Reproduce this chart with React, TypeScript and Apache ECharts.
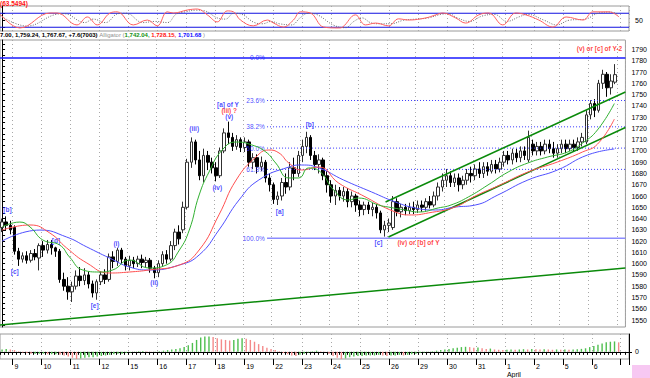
import React, { useEffect, useRef } from 'react';
import * as echarts from 'echarts';

// ---------- DATA ----------
const dayLabels = ['9', '10', '11', '12', '15', '16', '17', '18', '19', '22', '23', '24', '25', '26', '29', '30', '31', '1', '2', '5', '6'];
const monthLabelDay = '1';
const monthLabel = 'April';
const firstDaySlot = 3;
const barsPerDay = 7;
const slotCount = 152;

// [open, close, low, high]
const ohlc: number[][] = [
  // Mar 8 (partial)
  [1632, 1637, 1628, 1640], [1637, 1634, 1629, 1642], [1634, 1630, 1626, 1638],
  // 9
  [1632, 1611, 1608, 1634], [1611, 1604, 1598, 1614], [1604, 1607, 1601, 1610], [1607, 1603, 1600, 1611], [1603, 1609, 1601, 1612], [1609, 1606, 1603, 1613], [1605, 1616, 1594, 1618],
  // 10
  [1616, 1612, 1606, 1620], [1612, 1617, 1609, 1621], [1617, 1614, 1608, 1621], [1614, 1611, 1606, 1615], [1611, 1586, 1583, 1613], [1586, 1580, 1576, 1592], [1580, 1575, 1568, 1588],
  // 11
  [1575, 1580, 1566, 1584], [1580, 1589, 1577, 1594], [1589, 1585, 1580, 1597], [1585, 1590, 1581, 1596], [1590, 1582, 1578, 1593], [1582, 1574, 1570, 1585], [1574, 1584, 1568, 1586],
  // 12
  [1584, 1590, 1581, 1593], [1590, 1586, 1582, 1595], [1586, 1606, 1584, 1609], [1606, 1602, 1596, 1611], [1602, 1612, 1598, 1614], [1612, 1604, 1600, 1614], [1604, 1598, 1594, 1606],
  // 15
  [1598, 1603, 1594, 1607], [1603, 1600, 1596, 1606], [1600, 1604, 1597, 1607], [1604, 1601, 1596, 1608], [1601, 1603, 1597, 1606], [1603, 1596, 1592, 1605], [1596, 1592, 1587, 1598],
  // 16
  [1592, 1600, 1588, 1603], [1600, 1608, 1597, 1611], [1608, 1604, 1600, 1612], [1604, 1616, 1602, 1620], [1616, 1628, 1612, 1631], [1628, 1622, 1617, 1634], [1630, 1650, 1627, 1655],
  // 17
  [1650, 1690, 1648, 1693], [1690, 1708, 1685, 1712], [1708, 1692, 1688, 1710], [1692, 1678, 1674, 1700], [1678, 1696, 1672, 1702], [1696, 1690, 1683, 1700], [1690, 1685, 1680, 1694],
  // 18
  [1685, 1678, 1673, 1690], [1678, 1700, 1676, 1703], [1700, 1716, 1698, 1720], [1716, 1712, 1706, 1726], [1712, 1704, 1700, 1716], [1704, 1710, 1701, 1714], [1710, 1703, 1699, 1712],
  // 19
  [1703, 1708, 1699, 1712], [1708, 1690, 1686, 1710], [1690, 1694, 1684, 1698], [1694, 1686, 1680, 1697], [1686, 1690, 1682, 1695], [1690, 1676, 1672, 1692], [1676, 1670, 1664, 1680],
  // 22
  [1670, 1657, 1653, 1672], [1657, 1660, 1652, 1664], [1660, 1672, 1656, 1676], [1672, 1668, 1662, 1680], [1668, 1685, 1665, 1690], [1685, 1680, 1674, 1694], [1680, 1696, 1677, 1700],
  // 23
  [1696, 1704, 1690, 1710], [1704, 1712, 1698, 1717], [1712, 1696, 1692, 1714], [1696, 1688, 1683, 1700], [1688, 1692, 1680, 1697], [1692, 1678, 1674, 1694], [1678, 1670, 1663, 1682],
  // 24
  [1670, 1660, 1654, 1674], [1660, 1665, 1652, 1670], [1665, 1660, 1656, 1668], [1660, 1664, 1655, 1668], [1664, 1655, 1650, 1667], [1655, 1660, 1650, 1664], [1660, 1652, 1646, 1662],
  // 25
  [1652, 1648, 1642, 1656], [1648, 1652, 1643, 1655], [1652, 1648, 1644, 1655], [1648, 1650, 1642, 1654], [1650, 1645, 1640, 1653], [1645, 1630, 1627, 1647], [1630, 1634, 1624, 1638],
  // 26
  [1634, 1636, 1628, 1640], [1632, 1655, 1630, 1660], [1655, 1646, 1642, 1658], [1646, 1650, 1641, 1653], [1650, 1647, 1643, 1653], [1647, 1650, 1644, 1654], [1650, 1648, 1644, 1655],
  // 29
  [1648, 1652, 1645, 1656], [1652, 1650, 1646, 1656], [1650, 1655, 1647, 1658], [1655, 1652, 1649, 1660], [1652, 1660, 1650, 1664], [1660, 1668, 1656, 1672], [1668, 1674, 1664, 1680],
  // 30
  [1674, 1678, 1668, 1684], [1678, 1672, 1668, 1682], [1672, 1676, 1668, 1680], [1676, 1670, 1664, 1680], [1670, 1674, 1666, 1678], [1674, 1680, 1670, 1684], [1680, 1678, 1672, 1686],
  // 31
  [1678, 1684, 1674, 1688], [1684, 1680, 1676, 1690], [1680, 1686, 1676, 1690], [1686, 1682, 1678, 1690], [1682, 1688, 1680, 1692], [1688, 1684, 1680, 1692], [1684, 1690, 1681, 1694],
  // Apr 1
  [1690, 1696, 1686, 1700], [1696, 1692, 1688, 1700], [1692, 1698, 1688, 1702], [1698, 1694, 1690, 1702], [1694, 1700, 1690, 1704], [1700, 1696, 1692, 1704], [1692, 1712, 1690, 1718],
  // 2
  [1706, 1700, 1696, 1710], [1700, 1704, 1696, 1708], [1704, 1700, 1696, 1708], [1700, 1706, 1697, 1710], [1706, 1702, 1698, 1710], [1702, 1698, 1694, 1708], [1698, 1702, 1694, 1706],
  // 5
  [1702, 1706, 1698, 1710], [1706, 1702, 1698, 1710], [1702, 1706, 1700, 1710], [1706, 1703, 1700, 1710], [1703, 1708, 1700, 1712], [1708, 1712, 1704, 1716], [1708, 1732, 1706, 1736],
  // 6
  [1732, 1742, 1728, 1745], [1742, 1736, 1730, 1746], [1736, 1760, 1734, 1763], [1760, 1768, 1755, 1772], [1768, 1756, 1748, 1770], [1756, 1762, 1750, 1768], [1761, 1767.67, 1759.24, 1777.0],
];

const lastChange = '+7.6(7003)';

// Alligator lines: [bar index, price]
const jaw: number[][] = [
  [0, 1620], [9.2, 1629.8], [15.7, 1623.6], [20.6, 1614.8], [26.1, 1605], [31, 1597], [35.8, 1594.4], [43.1, 1598.8],
  [47.9, 1607.7], [52.7, 1629.8], [57.6, 1656.5], [62.4, 1674.2], [69.7, 1685.7], [72.8, 1687.5], [77, 1684.9], [83, 1674.2],
  [89.8, 1663.6], [95.6, 1654.7], [100.4, 1649.4], [105.3, 1647.6], [110.1, 1650.2], [115, 1652], [120.5, 1660.9], [127.8, 1674.2],
  [135, 1683.1], [142.3, 1696.4], [148.8, 1701.7],
];
const teeth: number[][] = [
  [0, 1629.8], [6.8, 1634.3], [11.6, 1627.2], [15.7, 1613.9], [20.6, 1600.6], [26.1, 1591.7], [31, 1592.6], [35.8, 1594.4],
  [43.1, 1598.8], [47.9, 1612.1], [52.7, 1643.2], [56.9, 1674.2], [61.7, 1694.6], [64.8, 1700.8], [67.3, 1698.2], [69.7, 1689.3],
  [72.8, 1683.1], [77, 1685.7], [81.8, 1671.5], [87.4, 1660.9], [95.6, 1645.8], [99.5, 1643.2], [103.6, 1645], [110.1, 1650.2],
  [115, 1660], [120.5, 1668.9], [127.8, 1681.3], [135, 1690.2], [141.1, 1699.1], [144.7, 1706], [148.8, 1728.2],
];
const lips: number[][] = [
  [0, 1632.5], [4.3, 1636.9], [6.8, 1632.5], [9.9, 1621], [14, 1616.5], [16.4, 1605.9], [19.6, 1594.4], [23.7, 1592.6],
  [26.9, 1594.4], [31, 1603.2], [35.8, 1596.1], [39.9, 1598.8], [43.1, 1612.1], [45.5, 1629.8], [47.9, 1660.9], [50.3, 1681.3],
  [53.5, 1700.8], [56.9, 1707.9], [60.7, 1705.3], [64.1, 1699.1], [66.5, 1689.3], [69.7, 1676], [72.1, 1676], [74.5, 1684.9],
  [77.4, 1681.3], [80.6, 1665.3], [84.2, 1656.5], [86.6, 1658.2], [91.5, 1652], [93.9, 1650.2], [98, 1647.6], [101.2, 1645.8],
  [106, 1649.4], [109.1, 1652], [113.3, 1659.1], [118.1, 1669.8], [123, 1681.3], [127.8, 1689.3], [132.6, 1694.6], [137.5, 1699.1],
  [141.1, 1707], [144.7, 1718.6], [148.8, 1742.04],
];
const alligatorReadout = { lips: '1,742.04', teeth: '1,728.15', jaw: '1,701.68' };

// Trend / channel lines: [bar index, price]
const longTrend: number[][] = [[-0.5, 1545.5], [151.5, 1596.1]];
const channelUpper: number[][] = [[93.2, 1654.7], [151.5, 1752.3]];
const channelLower: number[][] = [[93.9, 1623.6], [151.5, 1720.8]];

// Fibonacci retracement
const fibHigh = 1782.5;
const fibLow = 1622.5;
const fibRatios = [0, 0.236, 0.382, 0.5, 0.618, 1];
const fibTexts = ['0.0%', '23.6%', '38.2%', '50.0%', '61.8%', '100.0%'];
const fibStart = 64.4;

// Wave annotations: [bar index, price, text, colour key]
const waveLabels: [number, number, string, string][] = [
  [1.3, 1647.6, '[b]', 'b'], [3.1, 1592.6, '[c]', 'b'], [13.1, 1620.1, '[d]', 'b'], [22.5, 1563.3, '[e]', 'b'],
  [27.8, 1617.5, '(i)', 'b'], [37, 1582.9, '(ii)', 'b'], [46.7, 1719.5, '(iii)', 'b'], [52.3, 1667.9, '(iv)', 'b'],
  [54.9, 1741.6, '[a] of Y', 'b'], [55.2, 1735.6, '(iii) ?', 'r'], [55.2, 1730.1, '(v)', 'b'],
  [67.5, 1646.6, '[a]', 'b'], [74.8, 1723, '[b]', 'b'], [91.5, 1619.2, '[c]', 'b'],
  [101.2, 1619.2, '(iv) or [b] of Y', 'r'], [145.2, 1791.3, '(v) or [c] of Y-2', 'r'],
];

// Stochastic: [bar index, value]
const stochK: number[][] = [
  [-0.5, 77], [4.3, 17], [11.6, 81], [13.3, 81], [18.1, 30], [20.6, 64], [23, 30], [26.1, 81], [27.8, 86], [31.7, 30],
  [35.1, 51], [37.5, 26], [39.9, 86], [41.4, 81], [44.8, 94], [47.2, 98], [49.6, 73], [52, 43], [54.4, 90], [55.9, 86],
  [57.6, 51], [60.7, 26], [64.1, 51], [65.6, 38], [68, 21], [70.4, 51], [72.1, 86], [74.5, 81], [77.7, 21], [81.3, 17],
  [82.3, 21], [85.4, 73], [87.8, 30], [90.3, 38], [93.4, 26], [95.8, 56], [98.3, 51], [102.4, 60], [104.8, 73], [106.5, 81],
  [109.6, 60], [112, 38], [115.2, 73], [117.6, 81], [121, 30], [124.1, 81], [126.6, 73], [129.7, 51], [133.1, 21], [136.3, 64],
  [140.4, 51], [142.8, 86], [146.7, 86], [149.1, 64],
];
const stochD: number[][] = [
  [-0.5, 70], [6, 25], [13, 75], [15, 78], [20, 40], [22, 55], [25, 40], [28, 78], [30, 80], [34, 40], [37, 45], [40, 40],
  [42, 75], [44, 85], [47, 93], [49, 90], [52, 60], [54, 55], [56, 80], [58, 75], [61, 40], [63, 35], [65, 45], [67, 35],
  [70, 30], [72, 60], [74, 80], [76, 75], [80, 30], [83, 18], [85, 45], [87, 60], [89, 40], [91, 35], [94, 35], [97, 50],
  [100, 55], [103, 60], [106, 75], [108, 78], [110, 60], [113, 45], [116, 68], [119, 75], [122, 45], [125, 65], [127, 75],
  [131, 50], [134, 30], [137, 50], [141, 55], [144, 80], [147, 85], [149, 75],
];
const stochBands = [80, 20];
const stochReadout = '(63.5494)';

// Awesome-oscillator-style histogram, one per bar
const ao: number[] = [
  4, 5, 4, 3,
  1, -1, -2, -3, -3, -3, -3, -4, -4, -4, -5, -6,
  -8, -10, -12, -11, -10, -9, -9, -8, -7,
  -6, -5, -4, -3, -3, -2,
  -1, 0.5, 1, 1.5, 1, 0.5, 0.5, 1,
  2, 3, 4, 5, 6, 8, 11, 15,
  20, 24, 26, 26, 25,
  23, 21, 20, 19, 20,
  22, 23, 22,
  20, 17, 13, 10, 7, 5, 3,
  1, -2, -4, -6, -7, -5, -3,
  -1, 1, 2, 1, 0.5,
  -3, -7, -10, -12,
  -11, -9, -8, -7, -7, -6, -6, -6, -5, -6, -7, -6, -6, -5, -6, -5, -4, -3, -2,
  -1, 0.5,
  1, 2, 3, 4, 5, 6, 7, 8, 8.5,
  8, 7, 7.5, 6, 5, 5.5, 4, 3.5, 3,
  3.5, 4, 3.5, 4, 4.5, 4, 5, 4.5, 4, 4.5, 4, 3.5, 4, 3.5, 4, 3.5, 4, 4.5, 5, 6, 8,
  10, 12, 14, 16, 17, 17.5, 16,
];

const priceTicks = [1550, 1560, 1570, 1580, 1590, 1600, 1610, 1620, 1630, 1640, 1650, 1660, 1670, 1680, 1690, 1700, 1710, 1720, 1730, 1740, 1750, 1760, 1770, 1780, 1790];
const priceMinorTicks = [1545, 1555, 1565, 1575, 1585, 1595, 1605, 1615, 1625, 1635, 1645, 1655, 1665, 1675, 1685, 1695, 1705, 1715, 1725, 1735, 1745, 1755, 1765, 1775, 1785, 1795];

// ---------- CHART ----------
const FONT = 'Liberation Sans';
const BLUE_TXT = '#2020ff';
const RED_TXT = '#ff1010';

function buildOption() {
  const slots = Array.from({ length: slotCount }, (_, i) => String(i));
  const isDayStart = (i: number) => i >= firstDaySlot && (i - firstDaySlot) % barsPerDay === 0;
  const dayOf = (i: number) => dayLabels[(i - firstDaySlot) / barsPerDay];

  const grids = [
    { left: 0, right: 21, top: 6, height: 25 },
    { left: 0, right: 21, top: 40, height: 287 },
    { left: 0, right: 21, top: 334, height: 28 },
  ].map((g) => ({ ...g, show: true, borderColor: '#9a9a9a', borderWidth: 1, backgroundColor: '#fff' }));

  const gridSplit = {
    show: true,
    interval: (i: number) => isDayStart(i),
    lineStyle: { color: '#a8a8a8', type: [1, 3] as any, width: 1 },
  };

  const xAxes: any[] = [
    { type: 'category', gridIndex: 0, data: slots, boundaryGap: true, axisLine: { show: false }, axisTick: { show: false }, axisLabel: { show: false }, splitLine: gridSplit },
    { type: 'value', gridIndex: 0, min: -0.5, max: slotCount - 0.5, show: false },
    { type: 'category', gridIndex: 1, data: slots, boundaryGap: true, axisLine: { show: false }, axisTick: { show: false }, axisLabel: { show: false }, splitLine: gridSplit },
    { type: 'value', gridIndex: 1, min: -0.5, max: slotCount - 0.5, show: false },
    {
      type: 'category', gridIndex: 2, data: slots, boundaryGap: true, position: 'bottom',
      axisLine: { show: true, lineStyle: { color: '#000', width: 1 } },
      axisTick: { show: true, interval: 0, length: 3, lineStyle: { color: '#000' } },
      axisLabel: {
        show: true,
        interval: (i: number) => isDayStart(i),
        formatter: (_v: string, i: number) => {
          const d = dayOf(i);
          return d === monthLabelDay ? d + '\n' + monthLabel : d;
        },
        align: 'left', margin: 3, fontSize: 7, lineHeight: 8, color: '#000', fontFamily: FONT,
      },
      splitLine: gridSplit,
    },
    {
      type: 'category', gridIndex: 2, data: slots, boundaryGap: true, position: 'bottom',
      axisLine: { show: false },
      axisTick: { show: true, interval: (i: number) => isDayStart(i), length: 6, lineStyle: { color: '#000' } },
      axisLabel: { show: false }, splitLine: { show: false },
    },
  ];

  const yLabel = { fontSize: 7, color: '#000', fontFamily: FONT, margin: 6, formatter: (v: number) => String(v) };
  const yAxes: any[] = [
    {
      type: 'value', gridIndex: 0, position: 'right', min: 4, max: 111,
      axisLine: { show: true, lineStyle: { color: '#000' } },
      axisTick: { show: true, customValues: [20, 50, 80], length: 3, lineStyle: { color: '#000' } },
      axisLabel: { ...yLabel, customValues: [50] }, splitLine: { show: false },
    },
    {
      type: 'value', gridIndex: 1, position: 'right', min: 1543.8, max: 1798.4,
      axisLine: { show: true, lineStyle: { color: '#000' } },
      axisTick: { show: true, customValues: [...priceTicks, ...priceMinorTicks], length: 3, lineStyle: { color: '#000' } },
      axisLabel: { ...yLabel, customValues: priceTicks }, splitLine: { show: false },
    },
    {
      type: 'value', gridIndex: 2, position: 'right', min: -12, max: 30,
      axisLine: { show: true, lineStyle: { color: '#000' } },
      axisTick: { show: true, customValues: [0], length: 3, lineStyle: { color: '#000' } },
      axisLabel: { ...yLabel, customValues: [0] }, splitLine: { show: false },
    },
  ];

  const lineSeries = (data: number[][], color: string, width: number, xi: number, yi: number, extra: any = {}) => ({
    type: 'line', data, xAxisIndex: xi, yAxisIndex: yi, symbol: 'none', silent: true,
    lineStyle: { color, width }, ...extra,
  });

  const series: any[] = [];

  // Top stochastic panel
  stochBands.forEach((b) => series.push(lineSeries([[-0.5, b], [slotCount - 0.5, b]], '#1010e0', 1.2, 1, 0)));
  series.push(lineSeries(stochD, '#707070', 1, 1, 0, { smooth: 0.4, lineStyle: { color: '#6a6a6a', width: 1, type: [1, 1.5] } }));
  series.push(lineSeries(stochK, '#ff6060', 1, 1, 0, { smooth: 0.4 }));

  // Fibonacci lines
  const fibLevels = fibRatios.map((r) => fibHigh - r * (fibHigh - fibLow));
  fibLevels.forEach((lv, k) => {
    const first = k === 0;
    const last = k === fibLevels.length - 1;
    const col = first ? '#1a1aff' : last ? '#8c8cff' : '#3a3aff';
    series.push(lineSeries(
      [[first ? -0.5 : fibStart, lv], [slotCount - 0.5, lv]], col, 1, 3, 1,
      { lineStyle: { color: col, width: first || last ? 1.5 : 1, type: first || last ? 'solid' : [1, 2] } },
    ));
  });

  // Long trend line & channel
  series.push(lineSeries(longTrend, '#0a8a0a', 1.5, 3, 1));
  series.push(lineSeries(channelUpper, '#0a8a0a', 1.5, 3, 1));
  series.push(lineSeries(channelLower, '#0a8a0a', 1.5, 3, 1));

  // Alligator
  series.push(lineSeries(jaw, '#5050ff', 1, 3, 1, { smooth: 0.5 }));
  series.push(lineSeries(teeth, '#ff5050', 1, 3, 1, { smooth: 0.5 }));
  series.push(lineSeries(lips, '#30b030', 1, 3, 1, { smooth: 0.5 }));

  // Candles
  series.push({
    type: 'candlestick', xAxisIndex: 2, yAxisIndex: 1, data: ohlc, barWidth: 3, silent: true,
    itemStyle: { color: '#ffffff', color0: '#000000', borderColor: '#303030', borderColor0: '#000000', borderWidth: 1 },
  });

  // Fib labels
  series.push({
    type: 'scatter', xAxisIndex: 3, yAxisIndex: 1, symbolSize: 0, silent: true,
    data: fibLevels.map((lv, k) => ({ value: [fibStart - 0.3, lv], name: fibTexts[k] })),
    label: { show: true, position: 'left', distance: 1, formatter: '{b}', fontSize: 6.5, color: BLUE_TXT, fontFamily: FONT },
  });

  // Wave labels
  series.push({
    type: 'scatter', xAxisIndex: 3, yAxisIndex: 1, symbolSize: 0, silent: true,
    data: waveLabels.map(([x, y, t, c]) => ({ value: [x, y], name: t, label: { color: c === 'r' ? RED_TXT : BLUE_TXT } })),
    label: { show: true, position: 'inside', formatter: '{b}', fontSize: 6.5, fontWeight: 'bold', fontFamily: FONT },
  });

  // Histogram
  series.push({
    type: 'bar', xAxisIndex: 4, yAxisIndex: 2, barWidth: 1.4, silent: true,
    data: ao.map((v, i) => ({
      value: v,
      itemStyle: { color: i > 0 && v < ao[i - 1] ? '#f48a8a' : '#4fbf4f' },
    })),
  });

  const last = ohlc[ohlc.length - 1];
  const fmt = (n: number) => n.toLocaleString('en-US', { minimumFractionDigits: 2, maximumFractionDigits: 2 });
  const hdr = `${fmt(last[3]).slice(-4)}, ${fmt(last[2])}, ${fmt(last[1])}, ${lastChange}`;

  const graphic: any[] = [
    {
      type: 'text', left: 0, top: 0, silent: true,
      style: { text: stochReadout, fill: RED_TXT, fontSize: 6.5, fontWeight: 'bold', fontFamily: FONT },
    },
    {
      type: 'text', left: 0, top: 32, silent: true,
      style: {
        text: `{k|${hdr}} {g|Alligator (}{lg|${alligatorReadout.lips},} {lr|${alligatorReadout.teeth},} {lb|${alligatorReadout.jaw}}{g| )}`,
        fontFamily: FONT, fontSize: 6,
        rich: {
          k: { fill: '#000', fontSize: 6, fontWeight: 'bold', fontFamily: FONT },
          g: { fill: '#909090', fontSize: 6, fontFamily: FONT },
          lg: { fill: '#109010', fontSize: 6, fontWeight: 'bold', fontFamily: FONT },
          lr: { fill: '#ff1010', fontSize: 6, fontWeight: 'bold', fontFamily: FONT },
          lb: { fill: '#1010ff', fontSize: 6, fontWeight: 'bold', fontFamily: FONT },
        },
      },
    },
    { type: 'rect', right: 0, bottom: 0, shape: { width: 18, height: 13 }, style: { fill: '#f7c8f2' }, silent: true },
  ];

  return {
    animation: false,
    backgroundColor: '#ffffff',
    grid: grids,
    xAxis: xAxes,
    yAxis: yAxes,
    series,
    graphic,
  };
}

export default function App() {
  const ref = useRef<HTMLDivElement>(null);
  useEffect(() => {
    const chart = echarts.init(ref.current!, null, { renderer: 'svg' });
    chart.setOption(buildOption() as any);
    return () => chart.dispose();
  }, []);
  return <div ref={ref} style={{ position: 'fixed', left: 0, top: 0, width: 650, height: 378, background: '#fff' }} />;
}
